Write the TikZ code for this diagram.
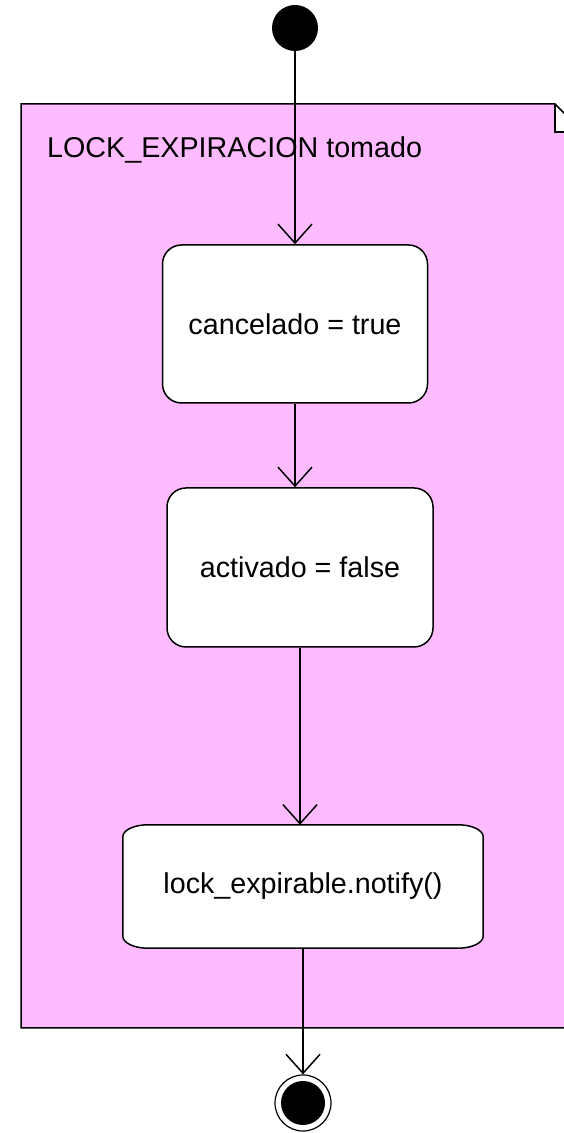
\documentclass[tikz,border=0pt]{standalone}
\usepackage{fontspec}
\setmainfont{Liberation Sans}
\usetikzlibrary{arrows.meta}
\definecolor{notepink}{RGB}{255,187,255}
\pgfdeclarelayer{notelayer}
\pgfdeclarelayer{shapelayer}
\pgfsetlayers{notelayer,shapelayer,main}
\tikzset{
  x=1pt, y=1pt,
  every node/.style={font=\fontsize{28.7}{34}\selectfont, text=black},
  boxline/.style={draw=black, line width=1.5pt},
  actbox/.style={boxline, rectangle, rounded corners=19pt, fill=white, inner sep=0pt},
  flow/.style={draw=black, line width=1.5pt, -{Straight Barb[length=19pt, width=34pt, line width=1.5pt]}},
  initial/.style={circle, fill=black, draw=none, minimum size=46pt, inner sep=0pt},
  finalring/.style={circle, draw=black, line width=1.2pt, minimum size=56pt, inner sep=0pt},
  finaldot/.style={circle, fill=black, draw=none, minimum size=44pt, inner sep=0pt}
}
\begin{document}
\begin{tikzpicture}
\useasboundingbox (0,0) rectangle (564,1133);
\clip (0,0) rectangle (564,1133);

% note holding the activity body
\begin{pgfonlayer}{notelayer}
  \fill[notepink] (21,105) -- (21,1029) -- (555,1029) -- (555,1001) -- (583,1001) -- (583,105) -- cycle;
  \draw[boxline] (21,105) -- (21,1029) -- (555,1029) -- (583,1001) -- (583,105) -- cycle;
  \draw[boxline] (555,1029) -- (555,1001) -- (583,1001);
\end{pgfonlayer}
\node[anchor=base west, inner sep=0pt] (title) at (47,975) {LOCK\_EXPIRACION tomado};

% initial and final states
\node[initial] (start) at (295,1105) {};
\node[finalring] (stop) at (303,30) {};
\node[finaldot] (stopdot) at (stop.center) {};

% actions
\node[actbox, minimum width=265pt, minimum height=158pt] (b1) at (295,809) {cancelado = true};
\node[actbox, minimum width=266pt, minimum height=159pt] (b2) at (300,565.5) {activado = false};
\node[inner sep=0pt, minimum width=360pt, minimum height=123pt] (b3) at (303,246.5) {lock\_expirable.notify()};
\begin{pgfonlayer}{shapelayer}
  \draw[boxline, fill=white]
    ([xshift=25pt]b3.north west) -- ([xshift=-25pt]b3.north east)
    arc[start angle=90, end angle=0, x radius=25pt, y radius=12pt]
    -- ([yshift=12pt]b3.south east)
    arc[start angle=0, end angle=-90, x radius=25pt, y radius=12pt]
    -- ([xshift=25pt]b3.south west)
    arc[start angle=270, end angle=180, x radius=25pt, y radius=12pt]
    -- ([yshift=-12pt]b3.north west)
    arc[start angle=180, end angle=90, x radius=25pt, y radius=12pt]
    -- cycle;
\end{pgfonlayer}

% control flow
\draw[flow] (start) -- (b1);
\draw[flow] (b1.south) -- (b1.south |- b2.north);
\draw[flow] (b2.south) -- (b2.south |- b3.north);
\draw[flow] (b3) -- (stop);
\end{tikzpicture}
\end{document}
